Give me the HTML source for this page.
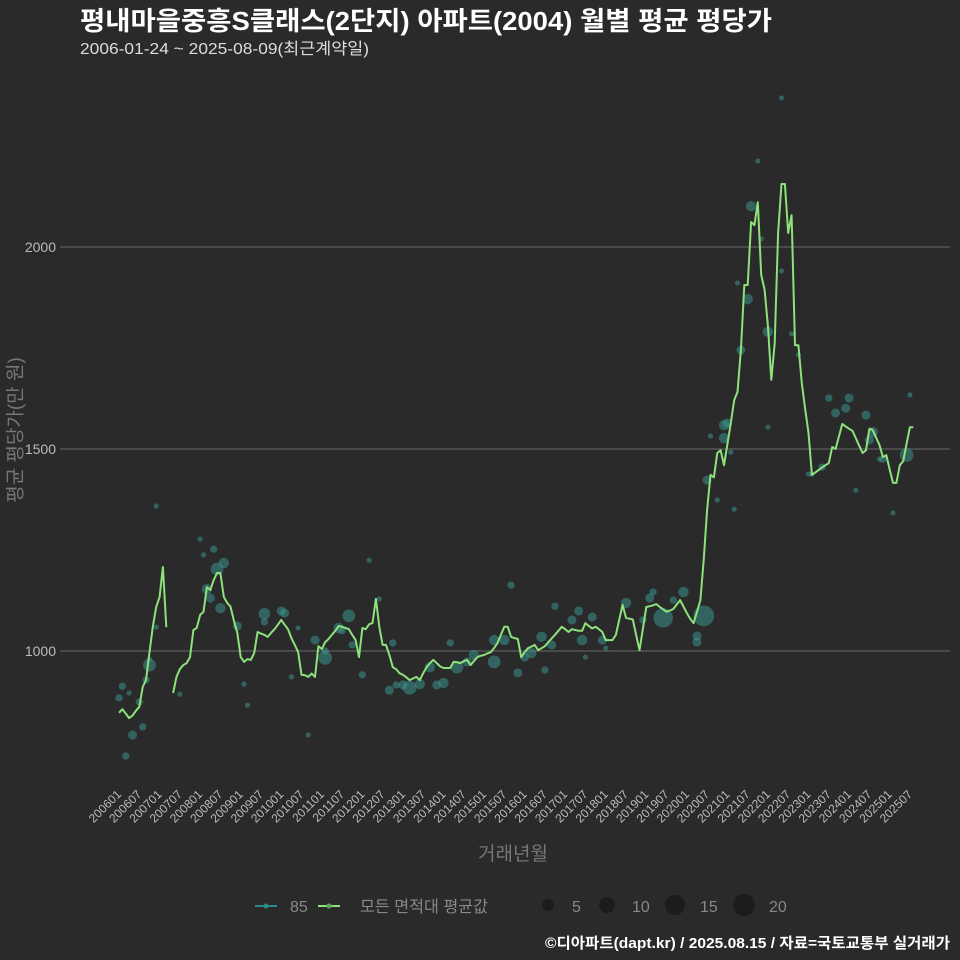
<!DOCTYPE html>
<html><head><meta charset="utf-8">
<style>
html,body{margin:0;padding:0;background:#2a2a2b;}
svg{display:block;font-family:"Liberation Sans","Noto Sans CJK KR",sans-serif;}
</style></head>
<body>
<svg id="chart" width="960" height="960" viewBox="0 0 960 960">
<rect width="960" height="960" fill="#2a2a2b"/>
<text x="80" y="30" fill="#ffffff" font-size="26" font-weight="bold" textLength="692" lengthAdjust="spacingAndGlyphs">평내마을중흥S클래스(2단지) 아파트(2004) 월별 평균 평당가</text>
<text x="80" y="54" fill="#dddddd" font-size="16" textLength="289" lengthAdjust="spacingAndGlyphs">2006-01-24 ~ 2025-08-09(최근계약일)</text>
<g id="grid"></g>
<g id="bubbles"></g>
<g id="lines"></g>
<g id="xaxis"></g>
<text x="16" y="430" fill="#777777" font-size="19" text-anchor="middle" dominant-baseline="central" transform="rotate(-90 16 430)">평균 평당가(만 원)</text>
<text x="513" y="860" fill="#777777" font-size="19" text-anchor="middle">거래년월</text>
<g>
<g>
<line x1="255" y1="906" x2="277" y2="906" stroke="#2a8a8a" stroke-width="2"/>
<circle cx="266" cy="906" r="2.5" fill="#2a8a8a"/>
<text x="290" y="912" fill="#888888" font-size="16">85</text></g>
<g>
<line x1="318" y1="906" x2="340" y2="906" stroke="#8de27b" stroke-width="2"/>
<circle cx="329" cy="906" r="2.5" fill="#5aa860"/>
<text x="360" y="912" fill="#888888" font-size="16" textLength="128" lengthAdjust="spacingAndGlyphs">모든 면적대 평균값</text></g>
<g><circle cx="548" cy="905" r="6" fill="#1c1c1c"/><text x="572" y="912" fill="#888888" font-size="16">5</text></g>
<g><circle cx="607" cy="905" r="8" fill="#1c1c1c"/><text x="632" y="912" fill="#888888" font-size="16">10</text></g>
<g><circle cx="675" cy="905" r="10" fill="#1c1c1c"/><text x="700" y="912" fill="#888888" font-size="16">15</text></g>
<g><circle cx="744" cy="905" r="11" fill="#1c1c1c"/><text x="769" y="912" fill="#888888" font-size="16">20</text></g>
</g>
<text x="950" y="948" fill="#ffffff" font-size="15" font-weight="bold" text-anchor="end" textLength="405" lengthAdjust="spacingAndGlyphs">©디아파트(dapt.kr) / 2025.08.15 / 자료=국토교통부 실거래가</text>
</svg>
<script>
const avgValues=[847,856,845,834,840,852,862,911,928,995,1060,1109,1134,1208,1059,null,896,936,955,965,970,985,1052,1057,1089,1097,1158,1151,1175,1193,1193,1134,1119,1110,1075,1045,985,973,980,978,995,1047,1043,1040,1035,1045,1054,1065,1077,1065,1054,1032,1015,998,941,940,936,944,936,1012,1005,1022,1030,1040,1050,1062,1060,1057,1054,1040,1027,985,1057,1054,1066,1069,1129,1060,1015,1015,990,960,955,945,941,935,928,932,936,928,945,960,970,978,970,962,958,958,958,973,972,970,975,978,965,975,985,988,990,994,997,1008,1020,1040,1060,1060,1035,1032,1030,985,997,1007,1011,1015,1002,1007,1012,1022,1031,1040,1050,1060,1054,1047,1054,1052,1050,1050,1069,1062,1056,1060,1054,1047,1027,1027,1027,1040,1077,1114,1082,1080,1078,1040,1002,1055,1109,1111,1113,1116,1109,1103,1097,1100,1104,1115,1126,1110,1094,1080,1069,1097,1126,1225,1349,1436,1430,1490,1497,1460,1512,1564,1621,1641,1745,1906,1906,2062,2054,2111,1931,1894,1802,1671,1762,2035,2156,2156,2035,2079,1757,1757,1663,1600,1540,1436,1442,1448,1454,1460,1465,1505,1500,1531,1562,1556,1550,1545,1527,1508,1490,1497,1550,1547,1528,1510,1480,1485,1450,1416,1416,1460,1470,1512,1554,1554];
const dealMonths=[0,1,2,4,3,6,7,9,9,8,11,11,18,24,25,28,31,29,26,27,30,35,37,38,43,43,48,49,53,51,56,58,61,61,65,68,66,69,72,74,77,81,80,82,84,86,89,92,94,96,98,100,103,105,111,111,114,116,118,120,122,126,125,128,129,134,136,137,138,140,143,144,150,155,157,158,161,164,167,171,173,171,174,175,177,179,179,180,181,182,184,183,186,187,189,190,192,192,196,196,199,201,204,205,208,210,212,215,216,218,221,223,222,225,229,233,234,226];
const dealValues=[884,913,740,792,896,874,812,965,980,928,1059,1359,893,1277,1238,1252,1218,1203,1153,1131,1106,1062,918,866,1092,1072,1099,1094,1057,936,792,1027,1000,983,1057,1087,1050,1015,941,1225,1129,1020,903,916,916,909,918,960,916,921,1020,960,973,990,973,1027,1027,1163,946,985,995,953,1035,1015,1111,1077,1099,1027,985,1084,1027,1007,1119,1077,1131,1146,1082,1126,1146,1037,1087,1022,1423,1532,1374,1559,1527,1564,1492,1351,1745,1911,1871,2101,2213,2020,1554,1790,1941,2369,1785,1733,1438,1438,1455,1626,1589,1601,1626,1398,1584,1542,1522,1475,1342,1485,1634,1475];
const dealCounts=[2,2,2,3,1,2,2,6,1,2,1,1,1,1,1,2,4,6,4,3,4,3,1,1,5,2,3,3,1,1,1,3,2,7,4,6,2,2,2,1,1,2,3,2,3,7,4,4,3,4,2,6,3,4,6,4,4,2,3,3,4,2,4,3,2,3,3,4,1,3,3,1,4,2,3,2,14,2,4,3,16,3,3,1,1,4,4,3,1,1,3,1,4,4,1,1,1,4,1,1,1,1,1,1,2,2,3,3,3,1,3,4,3,1,1,7,1,2];
const yTicks=[1000,1500,2000];
const xTickLabels=[];
for(let y=2006;y<=2025;y++){xTickLabels.push(y+'01');xTickLabels.push(y+'07');}

const NS='http://www.w3.org/2000/svg';
const X0=119, PXM=3.38;
function xScale(m){return X0+m*PXM;}
function yScale(v){return 651-(v-1000)*0.404;}
function mk(tag,attrs,parent){const e=document.createElementNS(NS,tag);for(const k in attrs)e.setAttribute(k,attrs[k]);parent.appendChild(e);return e;}

const grid=document.getElementById('grid');
yTicks.forEach(t=>{
  const l=mk('line',{x1:60,x2:950,y1:yScale(t),y2:yScale(t),stroke:'#5e5e5e','stroke-width':1.2},grid);
  
  
  const tx=mk('text',{x:56,y:yScale(t)+5,fill:'#bbbbbb','font-size':14,'text-anchor':'end'},grid);
  tx.textContent=t;
  
  
});

const xa=document.getElementById('xaxis');
xTickLabels.forEach((lab,i)=>{
  const x=xScale(i*6);
  const t=mk('text',{x:x+3,y:795,fill:'#bbbbbb','font-size':12,'text-anchor':'end',transform:`rotate(-45 ${x+3} 795)`},xa);
  t.textContent=lab;
  
  
});

const bg=document.getElementById('bubbles');
dealMonths.forEach((m,i)=>{
  const c=mk('circle',{cx:xScale(m),cy:yScale(dealValues[i]),r:2.6*Math.sqrt(dealCounts[i]),fill:'rgba(60,155,150,0.5)'},bg);
  
  
});

const lg=document.getElementById('lines');
let segs=[],cur='';
avgValues.forEach((v,i)=>{
  if(v===null){if(cur)segs.push(cur);cur='';return;}
  cur+=(cur?'L':'M')+xScale(i).toFixed(1)+','+yScale(v).toFixed(1);
});
if(cur)segs.push(cur);
segs.forEach(d=>{
  const p=mk('path',{d:d,fill:'none',stroke:'#8de27b','stroke-width':2,'stroke-linejoin':'round'},lg);
  
  
});
</script>
</body></html>
